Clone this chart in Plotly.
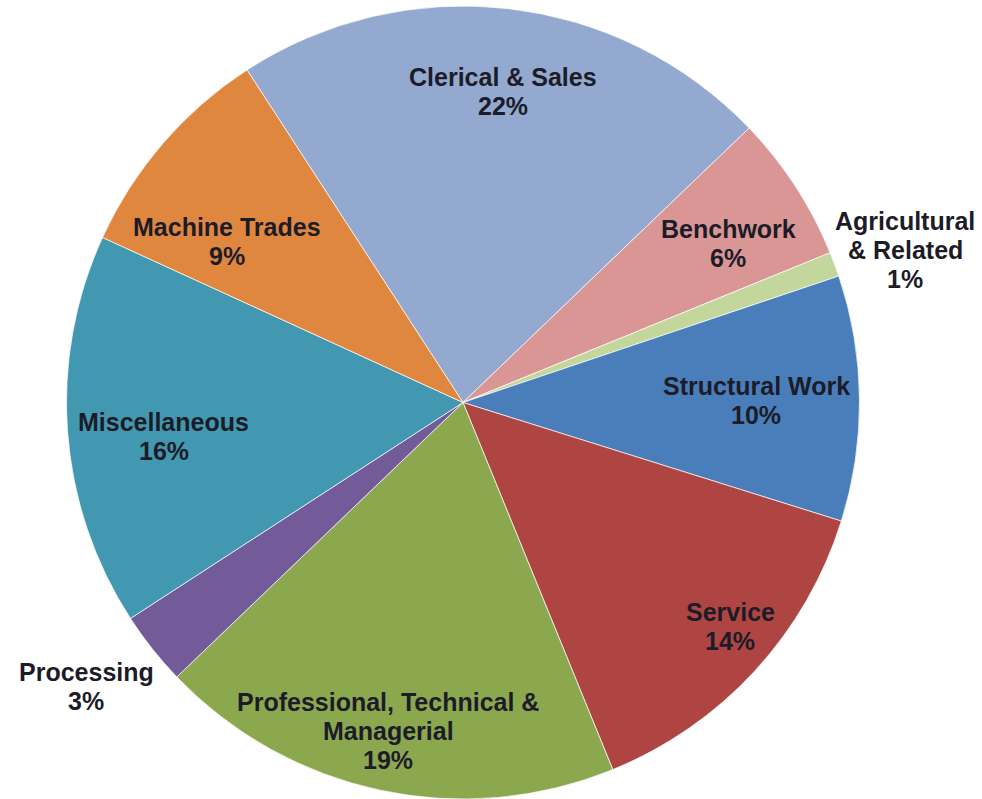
import math
import plotly.graph_objects as go

# ---- data (clockwise, starting with Clerical & Sales) ----
labels = ["Clerical & Sales", "Benchwork", "Agricultural<br>& Related", "Structural Work",
          "Service", "Professional, Technical &<br>Managerial", "Processing",
          "Miscellaneous", "Machine Trades"]
values = [22, 6, 1, 10, 14, 19, 3, 16, 9]
colors = ["#93A9CF", "#D99694", "#C3D69B", "#4A7EBB", "#AF4542", "#8BA84F",
          "#735A99", "#4298B0", "#E0873F"]

# label placement styles (radial factor of pie radius, angular nudge in degrees)
label_r = [0.79, 0.78, 1.18, 0.74, 0.88, 0.85, 1.19, 0.76, 0.72]
label_da = [0.7, 2.0, 1.4, 0.2, -2.6, 0.8, 1.4, -2.3, -6.4]

W, H = 982, 799
MT, MB, ML, MR = 6, 0, 0, 0
ROT = -33
LINE_PX = 29
FONT = dict(family="Liberation Sans, Arial, sans-serif", size=25, color="#1C1C28")
cx_px, R_px = 463.0, (H - MT - MB) / 2.0
cy_px = MT + R_px
dom_x = [(cx_px - R_px) / W, (cx_px + R_px) / W]

fig = go.Figure(go.Pie(
    labels=labels, values=values, sort=False, direction="clockwise", rotation=ROT,
    marker=dict(colors=colors, line=dict(color="rgba(255,255,255,0.7)", width=1)),
    textinfo="none", hoverinfo="label+percent", showlegend=False,
    domain=dict(x=dom_x, y=[0, 1]),
))

total = sum(values)
cum = 0.0
annotations = []
for lab, v, rf, da in zip(labels, values, label_r, label_da):
    mid = ROT + (cum + v / 2.0) / total * 360.0 + da
    cum += v
    a = math.radians(mid)
    px = cx_px + rf * R_px * math.sin(a)
    py = cy_px - rf * R_px * math.cos(a)
    lines = lab.split("<br>") + [f"{v}%"]
    n = len(lines)
    for i, line in enumerate(lines):
        ly = py + (i - (n - 1) / 2.0) * LINE_PX
        annotations.append(dict(
            x=(px - ML) / (W - ML - MR), y=1 - (ly - MT) / (H - MT - MB),
            xref="paper", yref="paper", xanchor="center", yanchor="middle",
            text=f"<b>{line}</b>", showarrow=False, align="center", font=FONT,
        ))

fig.update_layout(
    width=W, height=H, margin=dict(l=ML, r=MR, t=MT, b=MB),
    paper_bgcolor="white", plot_bgcolor="white", annotations=annotations,
)
fig.write_html("out.html")
